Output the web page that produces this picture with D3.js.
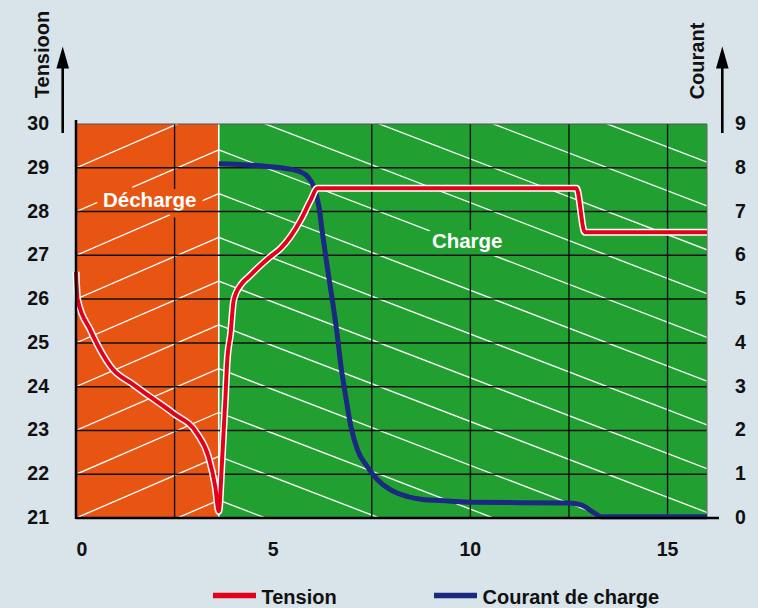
<!DOCTYPE html>
<html><head><meta charset="utf-8">
<script src="https://cdn.jsdelivr.net/npm/d3@7/dist/d3.min.js"></script>
<style>
html,body{margin:0;padding:0;background:#d9e3ea;}
svg{display:block;font-family:"Liberation Sans",Arial,Helvetica,sans-serif;font-weight:bold;}
</style></head>
<body><svg id="c" width="758" height="608"></svg>
<script>
// ---- data ----
const xTicks = [0, 5, 10, 15];
const xGrid = [2.5, 7.5, 10, 12.5, 15];
const leftTicks = [21, 22, 23, 24, 25, 26, 27, 28, 29, 30];
const rightTicks = [0, 1, 2, 3, 4, 5, 6, 7, 8, 9];
const dischargeEnd = 3.62;
const tensionHours = [0, 0.04, 0.36, 0.95, 1.4, 1.88, 2.47, 3.07, 3.36, 3.53, 3.62, 3.70, 3.79, 3.83, 3.92, 4.00, 4.21, 4.38, 4.64, 4.93, 5.19, 5.44, 5.70, 5.95, 6.12, 12.69, 12.90, 16.0];
const tensionValues = [26.62, 26.0, 25.3, 24.38, 24.08, 23.77, 23.39, 22.93, 22.40, 21.72, 21.15, 22.25, 23.77, 24.53, 25.22, 25.98, 26.36, 26.51, 26.74, 26.97, 27.16, 27.43, 27.81, 28.26, 28.53, 28.53, 27.53, 27.53];
const courantHours = [3.62, 4.85, 5.61, 5.87, 6.03, 6.16, 6.25, 6.37, 6.50, 6.63, 6.71, 6.84, 6.97, 7.14, 7.39, 7.65, 7.98, 8.41, 8.75, 9.43, 10.02, 12.48, 12.81, 13.15, 13.32, 16.0];
const courantValues = [8.09, 8.03, 7.93, 7.80, 7.57, 7.11, 6.50, 5.74, 4.98, 4.14, 3.53, 2.77, 2.09, 1.55, 1.17, 0.87, 0.64, 0.49, 0.43, 0.39, 0.36, 0.34, 0.30, 0.11, 0.03, 0.03];
const zoneLabels = [{text: "Décharge", x: 1.87, v: 28.11, zone: "d"}, {text: "Charge", x: 9.92, v: 27.17, zone: "c"}];
const legendItems = ["Tension", "Courant de charge"];
const axisTitles = ["Tensioon", "Courant"];

// ---- styles ----
const BG = "#d9e3ea", ORANGE = "#e85513", GREEN = "#21a031", RED = "#e3001b", BLUE = "#1b2a80";

const svg = d3.select("#c");
const L = 76, R = 707, T = 124, B = 518;
const x = d3.scaleLinear().domain([0, 16]).range([L, R]);
const yL = d3.scaleLinear().domain([21, 30]).range([B, T]);
const yR = d3.scaleLinear().domain([0, 9]).range([B, T]);

svg.append("rect").attr("width", 758).attr("height", 608).attr("fill", BG);

const defs = svg.append("defs");
defs.append("clipPath").attr("id", "clipD").append("rect")
  .attr("x", x(0)).attr("y", T).attr("width", x(dischargeEnd) - x(0)).attr("height", B - T);
defs.append("clipPath").attr("id", "clipC").append("rect")
  .attr("x", x(dischargeEnd)).attr("y", T).attr("width", x(16) - x(dischargeEnd)).attr("height", B - T);

svg.append("rect").attr("x", x(0)).attr("y", T).attr("width", x(dischargeEnd) - x(0)).attr("height", B - T).attr("fill", ORANGE);
svg.append("rect").attr("x", x(dischargeEnd)).attr("y", T).attr("width", x(16) - x(dischargeEnd)).attr("height", B - T).attr("fill", GREEN);

// hatch (decoration)
const anchors = d3.range(-14, 8).map(n => 29.41 + n);
const upSlope = 0.39, downSlope = 0.346;
const gD = svg.append("g").attr("clip-path", "url(#clipD)");
anchors.forEach(a => {
  gD.append("line").attr("x1", x(0)).attr("y1", yL(a - upSlope * dischargeEnd))
    .attr("x2", x(dischargeEnd)).attr("y2", yL(a))
    .attr("stroke", "#fff").attr("stroke-width", 1.3);
});
const gC = svg.append("g").attr("clip-path", "url(#clipC)");
anchors.forEach(a => {
  gC.append("line").attr("x1", x(dischargeEnd)).attr("y1", yL(a))
    .attr("x2", x(16)).attr("y2", yL(a - downSlope * (16 - dischargeEnd)))
    .attr("stroke", "#fff").attr("stroke-width", 1.3);
});

// vertical grid
svg.append("g").selectAll("line").data(xGrid).join("line")
  .attr("x1", d => x(d)).attr("x2", d => x(d)).attr("y1", T).attr("y2", B)
  .attr("stroke", "#111").attr("stroke-width", 1.4);

// zone labels with halo
svg.append("g").selectAll("text").data(zoneLabels).join("text")
  .attr("x", d => x(d.x)).attr("y", d => yL(d.v))
  .attr("text-anchor", "middle").attr("font-size", 20.5)
  .attr("fill", "#fff")
  .attr("stroke", d => d.zone === "d" ? ORANGE : GREEN)
  .attr("stroke-width", 14).attr("stroke-linejoin", "round")
  .attr("paint-order", "stroke")
  .text(d => d.text);

// boundary line
svg.append("line").attr("x1", x(dischargeEnd)).attr("x2", x(dischargeEnd)).attr("y1", T).attr("y2", B)
  .attr("stroke", "#fff").attr("stroke-width", 1.6);

// horizontal grid
svg.append("g").selectAll("line").data(leftTicks.filter(v => v > 21 && v < 30)).join("line")
  .attr("x1", L).attr("x2", R).attr("y1", d => yL(d)).attr("y2", d => yL(d))
  .attr("stroke", "#111").attr("stroke-width", 1.5);

// borders
svg.append("line").attr("x1", L).attr("x2", R).attr("y1", T).attr("y2", T).attr("stroke", "#555").attr("stroke-width", 1.2);
svg.append("line").attr("x1", R).attr("x2", R).attr("y1", T).attr("y2", B).attr("stroke", "#666").attr("stroke-width", 1);

// curves
const lineC = d3.line().x((d, i) => x(courantHours[i])).y(d => yR(d)).curve(d3.curveMonotoneX);
svg.append("path").attr("d", lineC(courantValues)).attr("fill", "none")
  .attr("stroke", BLUE).attr("stroke-width", 5).attr("stroke-linejoin", "round");
const lineT = d3.line().x((d, i) => x(tensionHours[i])).y(d => yL(d)).curve(d3.curveMonotoneX);
svg.append("path").attr("d", lineT(tensionValues)).attr("fill", "none")
  .attr("stroke", "#fff").attr("stroke-width", 7).attr("stroke-linejoin", "miter");
svg.append("path").attr("d", lineT(tensionValues)).attr("fill", "none")
  .attr("stroke", RED).attr("stroke-width", 4).attr("stroke-linejoin", "miter");

// axes lines
svg.append("line").attr("x1", L).attr("x2", L).attr("y1", T - 4).attr("y2", B + 1)
  .attr("stroke", "#000").attr("stroke-width", 2.5);
svg.append("line").attr("x1", L).attr("x2", R + 12).attr("y1", B).attr("y2", B)
  .attr("stroke", "#000").attr("stroke-width", 2.5);

// tick labels
svg.append("g").selectAll("text").data(leftTicks).join("text")
  .attr("x", L - 27).attr("y", d => yL(d) + 6).attr("text-anchor", "end")
  .attr("font-size", 19.5).attr("fill", "#111").text(d => d);
svg.append("g").selectAll("text").data(rightTicks).join("text")
  .attr("x", R + 28).attr("y", d => yR(d) + 6).attr("text-anchor", "start")
  .attr("font-size", 19.5).attr("fill", "#111").text(d => d);
svg.append("g").selectAll("text").data(xTicks).join("text")
  .attr("x", d => x(d) + (d === 0 ? 6 : 0)).attr("y", B + 38).attr("text-anchor", "middle")
  .attr("font-size", 19.5).attr("fill", "#111").text(d => d);

// axis titles and arrows
function arrow(ax) {
  svg.append("line").attr("x1", ax).attr("x2", ax).attr("y1", T + 9).attr("y2", T - 60)
    .attr("stroke", "#000").attr("stroke-width", 2.6);
  svg.append("path").attr("d", `M${ax - 6.3},${T - 55.5}L${ax},${T - 77.5}L${ax + 6.3},${T - 55.5}Z`).attr("fill", "#000");
}
arrow(L - 13.3);
arrow(R + 15.3);
svg.append("text").attr("transform", `translate(${L - 27},${T - 69.5}) rotate(-90)`)
  .attr("text-anchor", "middle").attr("font-size", 20).attr("fill", "#111").text(axisTitles[0]);
svg.append("text").attr("transform", `translate(${R - 3},${T - 63}) rotate(-90)`)
  .attr("text-anchor", "middle").attr("font-size", 20).attr("fill", "#111").text(axisTitles[1]);

// legend
const leg = svg.append("g");
const legX = [213, 434];
const legColors = [RED, BLUE];
legendItems.forEach((t, i) => {
  leg.append("line").attr("x1", legX[i]).attr("x2", legX[i] + 43).attr("y1", 595.5).attr("y2", 595.5)
    .attr("stroke", legColors[i]).attr("stroke-width", 5.5);
  leg.append("text").attr("x", legX[i] + 48.5).attr("y", 603.5).attr("font-size", 20)
    .attr("fill", "#111").text(t);
});
</script></body></html>
